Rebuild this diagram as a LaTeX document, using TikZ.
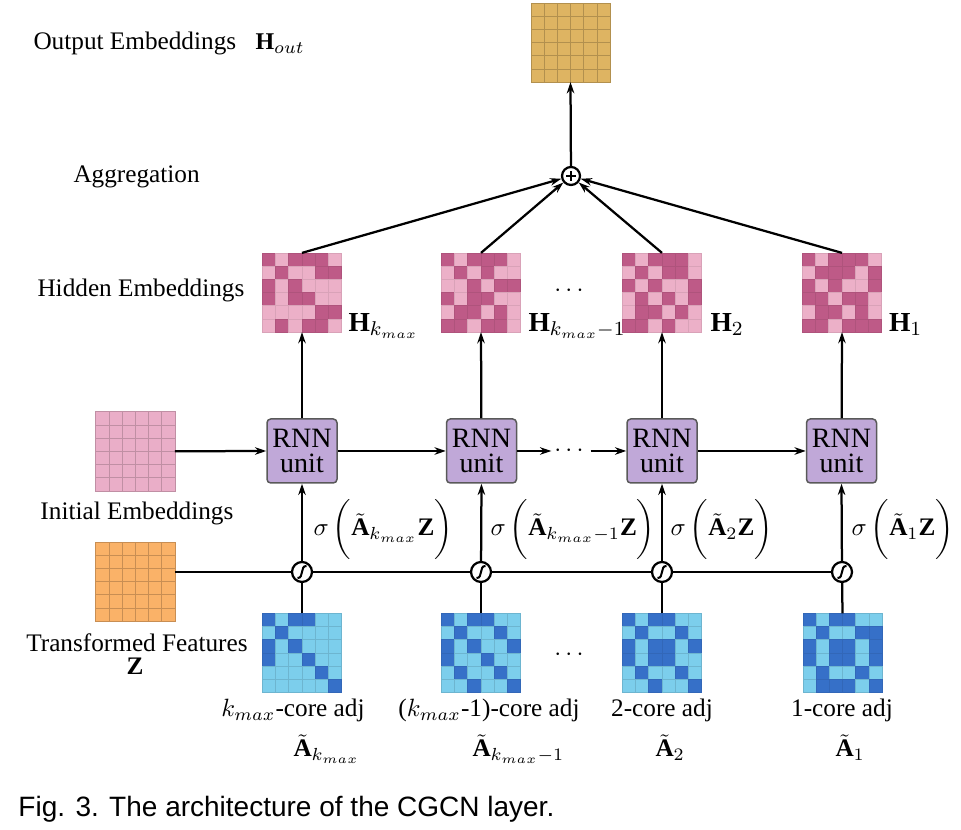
\documentclass[tikz,border=0pt]{standalone}
\usepackage{fontspec}
\setmainfont{Liberation Serif}
\newfontfamily\capfont{Liberation Sans}
\usepackage{amsmath}
\usepackage{xcolor}
\usetikzlibrary{arrows.meta, calc, positioning}

\definecolor{hidDark}{RGB}{190,90,135}
\definecolor{hidLight}{RGB}{236,176,200}
\definecolor{adjDark}{RGB}{54,112,200}
\definecolor{adjLight}{RGB}{124,206,236}
\definecolor{outGold}{RGB}{222,180,98}
\definecolor{initPink}{RGB}{234,174,200}
\definecolor{featOrange}{RGB}{250,178,104}
\definecolor{rnnPurple}{RGB}{192,168,216}

\tikzset{
  matbox/.style={minimum size=31.68pt, inner sep=0pt, outer sep=0pt},
  hid0/.style={fill=hidLight, draw=hidLight!92!black},
  hid1/.style={fill=hidDark, draw=hidDark!92!black},
  adj0/.style={fill=adjLight, draw=adjLight!88!black},
  adj1/.style={fill=adjDark, draw=adjDark!92!black},
  outc/.style={fill=outGold, draw=outGold!80!black},
  initc/.style={fill=initPink, draw=initPink!82!black},
  featc/.style={fill=featOrange, draw=featOrange!80!black},
  conn/.style={line width=0.9pt},
  lbl/.style={inner sep=0pt},
  hlbl/.style={inner sep=0pt, font=\fontsize{11}{12}\selectfont},
  rnnbox/.style={draw=black!65, fill=rnnPurple, rounded corners=1.5pt, line width=0.6pt,
    minimum width=28pt, minimum height=25.6pt, inner sep=0pt, align=center,
    font=\fontsize{11.2}{10}\selectfont},
  gate/.style={circle, draw, fill=white, line width=0.9pt, minimum size=8pt, inner sep=0pt,
    path picture={\coordinate (pc) at (path picture bounding box.center);
      \draw[line width=0.8pt] ([shift={(-1.8pt,-2.4pt)}]pc) .. controls ([shift={(0.9pt,-2.6pt)}]pc)
        and ([shift={(-0.9pt,2.6pt)}]pc) .. ([shift={(1.8pt,2.4pt)}]pc);}},
  aggr/.style={circle, draw, fill=white, line width=0.9pt, minimum size=7.2pt, inner sep=0pt,
    path picture={\coordinate (pc) at (path picture bounding box.center);
      \draw[line width=1pt] ([xshift=-1.9pt]pc) -- ([xshift=1.9pt]pc)
        ([yshift=-1.9pt]pc) -- ([yshift=1.9pt]pc);}},
}

% patterned 6x6 matrix: name, centre, rows, cell style prefix
\newcommand{\cellmat}[4]{%
  \node[matbox] (#1) at (#2) {};
  \foreach \mrow [count=\mr] in {#3} {
    \foreach \mbit [count=\mc] in \mrow {
      \path[#4\mbit, line width=0.3pt] ($(#1.north west)+(\mc*13.2-13.2,\mr*13.2-13.2)$) rectangle ++(13.2,13.2);
    }
  }
}
% plain 6x6 matrix: name, centre, cell style
\newcommand{\plainmat}[3]{%
  \node[matbox] (#1) at (#2) {};
  \foreach \mr in {1,...,6} {
    \foreach \mc in {1,...,6} {
      \path[#3, line width=0.3pt] ($(#1.north west)+(\mc*13.2-13.2,\mr*13.2-13.2)$) rectangle ++(13.2,13.2);
    }
  }
}

\begin{document}
\begin{tikzpicture}[x=0.4pt, y=-0.4pt, >={Stealth[length=4.5pt,width=3pt]},
    font=\fontsize{10.1}{10.4}\selectfont]
    \useasboundingbox (0,0) rectangle (961,830);
    % Output and aggregation
    \plainmat{out}{570.5,42.5}{outc}
    \node[aggr] (agg) at (571,176) {};
    \node[lbl, anchor=base west] (outlbl) at (33,50) {Output Embeddings};
    \node[lbl, anchor=base west, font=\fontsize{9.6}{10}\selectfont] (hout) at (255,50) {$\mathbf{H}_{out}$};
    \node[lbl, anchor=base west] (agglbl) at (73,183) {Aggregation};
%
    % Hidden embeddings
    \cellmat{hK}{302,292.5}{{1,0,1,1,1,0},{0,1,0,0,1,1},{1,0,1,0,0,0},{1,0,1,1,0,0},{0,0,0,0,1,1},{0,1,0,1,1,0}}{hid}
    \cellmat{hK1}{481,292.5}{{1,0,1,1,1,0},{0,1,0,1,0,0},{0,0,1,0,1,1},{1,0,1,1,0,0},{0,1,1,0,1,0},{1,1,0,1,1,0}}{hid}
    \cellmat{h2}{662,292.5}{{1,0,1,1,1,0},{0,1,0,1,1,0},{1,0,1,0,0,1},{0,1,0,1,0,1},{0,1,1,0,1,0},{1,1,0,1,0,0}}{hid}
    \cellmat{h1}{842,292.5}{{1,0,1,1,1,0},{0,1,1,1,0,1},{1,0,1,0,0,1},{1,1,0,1,1,0},{0,1,1,0,1,0},{1,1,0,1,1,1}}{hid}
    \node[lbl, anchor=base west] (hidlbl) at (37,297) {Hidden Embeddings};
    \node[hlbl, anchor=base west] at ([shift={(2.6pt,0.4pt)}]hK.south east) {$\mathbf{H}_{k_{max}}$};
    \node[hlbl, anchor=base west] at ([shift={(3pt,0.4pt)}]hK1.south east) {$\mathbf{H}_{k_{max}-1}$};
    \node[hlbl, anchor=base west] at ([shift={(3.4pt,0.4pt)}]h2.south east) {$\mathbf{H}_2$};
    \node[hlbl, anchor=base west] at ([shift={(2.8pt,0.4pt)}]h1.south east) {$\mathbf{H}_1$};
    \node (dH) at (571,291) {$\cdots$};
%
    % RNN units
    \node[rnnbox] (rK) at (302,451) {RNN\\unit};
    \node[rnnbox] (rK1) at (481.5,451) {RNN\\unit};
    \node[rnnbox] (r2) at (662,451) {RNN\\unit};
    \node[rnnbox] (r1) at (841.5,451) {RNN\\unit};
    \node[inner sep=1pt] (dR) at (571,451) {$\cdots$};
    \plainmat{init}{135.3,451.3}{initc}
    \node[lbl, anchor=base west] (initlbl) at (40,520) {Initial Embeddings};
%
    % Gates and transformed features
    \node[gate] (gK) at (302,572) {};
    \node[gate] (gK1) at (481,572) {};
    \node[gate] (g2) at (662,572) {};
    \node[gate] (g1) at (842,572) {};
    \node[lbl, anchor=base west] at (313,536) {$\sigma\,\bigg(\tilde{\mathbf{A}}_{k_{max}}\mathbf{Z}\bigg)$};
    \node[lbl, anchor=base west] at (490,536) {$\sigma\,\bigg(\tilde{\mathbf{A}}_{k_{max}-1}\mathbf{Z}\bigg)$};
    \node[lbl, anchor=base west] at (670,536) {$\sigma\,\bigg(\tilde{\mathbf{A}}_{2}\mathbf{Z}\bigg)$};
    \node[lbl, anchor=base west] at (851,536) {$\sigma\,\bigg(\tilde{\mathbf{A}}_{1}\mathbf{Z}\bigg)$};
    \plainmat{feat}{135.3,581.5}{featc}
    \node[lbl, anchor=base] (featlbl) at (137,652) {Transformed Features};
    \node[lbl, anchor=base] (zlbl) at (135,675) {$\mathbf{Z}$};
%
    % k-core adjacency matrices
    \cellmat{aK}{302,653}{{1,0,1,1,0,0},{0,1,0,0,0,0},{1,0,1,0,0,0},{1,0,0,1,0,0},{0,0,0,0,1,0},{0,0,0,0,0,1}}{adj}
    \cellmat{aK1}{481,653}{{1,0,1,1,0,0},{0,1,0,0,1,0},{1,0,1,0,0,1},{1,0,0,1,0,0},{0,1,0,0,1,0},{0,0,1,0,0,1}}{adj}
    \cellmat{a2}{662,653}{{1,0,1,1,0,0},{0,1,0,0,1,0},{1,0,1,1,0,1},{1,0,1,1,0,0},{0,1,0,0,1,0},{0,0,1,0,0,1}}{adj}
    \cellmat{a1}{842.5,653}{{1,0,1,1,0,0},{0,1,0,0,1,1},{1,0,1,1,0,1},{1,0,1,1,0,1},{0,1,0,0,1,0},{0,1,1,1,0,1}}{adj}
    \node (dA) at (571,655) {$\cdots$};
    \node[lbl, anchor=base] at (293,717) {$k_{max}$-core adj};
    \node[lbl, anchor=base] at (489,717) {($k_{max}$-1)-core adj};
    \node[lbl, anchor=base] at (662,717) {2-core adj};
    \node[lbl, anchor=base] at (842,717) {1-core adj};
    \node[lbl, anchor=base west] at (293,757) {$\tilde{\mathbf{A}}_{k_{max}}$};
    \node[lbl, anchor=base west] at (472,757) {$\tilde{\mathbf{A}}_{k_{max}-1}$};
    \node[lbl, anchor=base west] at (655,757) {$\tilde{\mathbf{A}}_{2}$};
    \node[lbl, anchor=base west] at (835,757) {$\tilde{\mathbf{A}}_{1}$};
%
    % Connectors
    \draw[->, conn] (agg) -- (out.south);
    \foreach \h in {hK, hK1, h2, h1}
        \draw[->, conn] (\h.north) -- (agg);
    \foreach \k/\h in {rK/hK, rK1/hK1, r2/h2, r1/h1}
        \draw[->, conn] (\k) -- (\h.south);
    \foreach \a/\g/\k in {aK/gK/rK, aK1/gK1/rK1, a2/g2/r2, a1/g1/r1} {
        \draw[conn] (\a.north) -- (\g);
        \draw[->, conn] (\g) -- (\k.south);
    }
    \draw[->, conn] (init.east) -- (rK.west);
    \draw[->, conn] (rK) -- (rK1);
    \draw[->, conn] (rK1.east) -- (rK1.east -| dR.west);
    \draw[->, conn] (dR.east |- r2.west) -- (r2.west);
    \draw[->, conn] (r2) -- (r1);
    \draw[conn] (feat.east |- gK) -- (gK) -- (gK1) -- (g2) -- (g1);
%
    % Caption
    \node[lbl, anchor=base west, font=\capfont\fontsize{11.2}{13}\selectfont] (cap) at (18,817)
        {Fig. 3. The architecture of the CGCN layer.};
\end{tikzpicture}
\end{document}
